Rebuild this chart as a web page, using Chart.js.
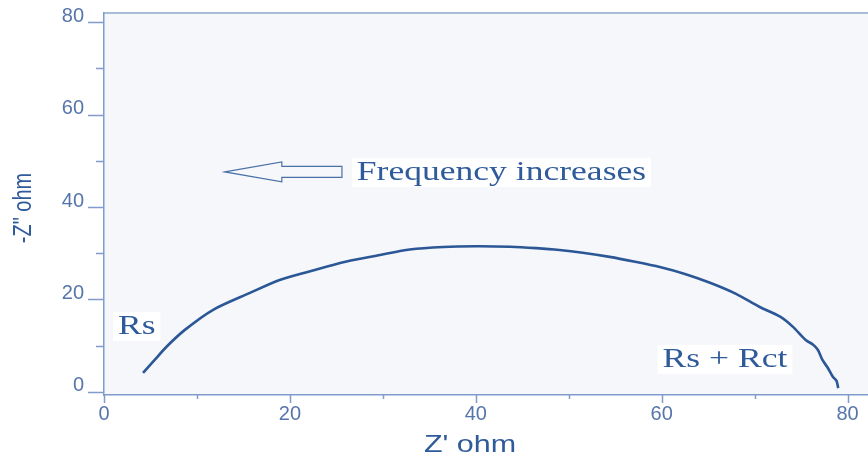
<!DOCTYPE html>
<html>
<head>
<meta charset="utf-8">
<script src="https://cdn.jsdelivr.net/npm/chart.js@4"></script>
<style>
  html, body { margin: 0; padding: 0; background: #ffffff; }
  #wrap { width: 868px; height: 458px; }
</style>
</head>
<body>
<div id="wrap"><canvas id="nyquist" width="868" height="458"></canvas></div>
<script>
'use strict';
// Nyquist plot values (ohm)
var zReal = [4.2, 5.5, 6.7, 8.7, 11.7, 15.7, 18.9, 22.0, 26.1, 29.7, 32.9, 36.5, 40.0, 43.7, 46.5,
  49.0, 51.5, 54.4, 57.0, 59.8, 62.5, 65.2, 68.0, 70.5, 72.7, 74.1, 75.5, 76.3, 76.8, 77.3, 77.9, 78.4, 78.8, 79.0];
var zImag = [4.1, 7.0, 9.7, 13.4, 17.7, 21.4, 24.2, 26.0, 28.2, 29.6, 30.8, 31.35, 31.5, 31.4, 31.1,
  30.7, 30.1, 29.2, 28.2, 27.0, 25.5, 23.6, 21.2, 18.4, 16.3, 14.1, 11.2, 10.2, 9.1, 6.9, 5.1, 3.3, 2.4, 0.8];

var xTicks = [0, 10, 20, 30, 40, 50, 60, 70, 80];
var yTicks = [0, 10, 20, 30, 40, 50, 60, 70, 80];
var labelEvery = 20;

var xTitle = "Z' ohm";
var yTitle = '-Z" ohm';

// annotations, anchored in data units
var notes = [
  { text: 'Frequency increases', x: 27.2, y: 45.8 },
  { text: 'Rs', x: 1.5, y: 12.5 },
  { text: 'Rs + Rct', x: 60.1, y: 5.4 }
];
var arrow = { tipX: 13.0, tailX: 25.6, y: 47.6 };

var AXIS = '#7f9ccc';
var LABEL = '#5675ab';
var TITLE = '#2f5b9b';
var LINE = '#2b5797';
var STRETCH = 1.27;

var decor = {
  id: 'decor',
  beforeDraw: function(chart) {
    var a = chart.chartArea, ctx = chart.ctx;
    ctx.save();
    ctx.fillStyle = '#f5f7fa';
    ctx.fillRect(a.left, a.top, a.right - a.left, a.bottom - a.top);
    ctx.strokeStyle = '#a9bdd8';
    ctx.lineWidth = 2;
    ctx.beginPath();
    ctx.moveTo(a.left, a.top);
    ctx.lineTo(a.right, a.top);
    ctx.stroke();
    ctx.restore();
  },
  afterDraw: function(chart) {
    var a = chart.chartArea, ctx = chart.ctx;
    var xs = chart.scales.x, ys = chart.scales.y;
    ctx.save();

    // tick marks, major ones longer
    ctx.strokeStyle = AXIS;
    ctx.lineWidth = 1.5;
    ctx.beginPath();
    xTicks.forEach(function(v) {
      var px = Math.round(xs.getPixelForValue(v)) + 0.5;
      var len = v % labelEvery === 0 ? 8 : 4;
      ctx.moveTo(px, a.bottom);
      ctx.lineTo(px, a.bottom + len);
    });
    yTicks.forEach(function(v) {
      var py = Math.round(ys.getPixelForValue(v)) + 0.5;
      var len = v % labelEvery === 0 ? 16 : 8;
      ctx.moveTo(a.left, py);
      ctx.lineTo(a.left - len, py);
    });
    ctx.stroke();

    // axis titles
    ctx.fillStyle = TITLE;
    ctx.font = '24px "Liberation Sans", Arial, sans-serif';
    ctx.textAlign = 'center';
    ctx.textBaseline = 'alphabetic';
    ctx.save();
    ctx.translate(470, 452);
    ctx.scale(STRETCH, 1);
    ctx.fillText(xTitle, 0, 0);
    ctx.restore();

    ctx.font = '20px "Liberation Sans", Arial, sans-serif';
    ctx.textBaseline = 'middle';
    ctx.save();
    ctx.translate(24, 208);
    ctx.scale(STRETCH, 1);
    ctx.rotate(-Math.PI / 2);
    ctx.fillText(yTitle, 0, 0);
    ctx.restore();

    // text notes on white boxes
    ctx.font = '28px "Liberation Serif", "Times New Roman", serif';
    ctx.textAlign = 'left';
    ctx.textBaseline = 'alphabetic';
    notes.forEach(function(n) {
      var px = xs.getPixelForValue(n.x), py = ys.getPixelForValue(n.y);
      var w = ctx.measureText(n.text).width * STRETCH;
      ctx.fillStyle = '#ffffff';
      ctx.fillRect(px - 5, py - 22, w + 10, 29);
      ctx.fillStyle = TITLE;
      ctx.save();
      ctx.translate(px, py);
      ctx.scale(STRETCH, 1);
      ctx.fillText(n.text, 0, 0);
      ctx.restore();
    });

    // hollow arrow pointing left
    var tx = xs.getPixelForValue(arrow.tipX), ex = xs.getPixelForValue(arrow.tailX);
    var cy = ys.getPixelForValue(arrow.y), hx = tx + 57;
    ctx.strokeStyle = '#4a70a8';
    ctx.lineWidth = 1.2;
    ctx.beginPath();
    ctx.moveTo(tx, cy);
    ctx.lineTo(hx, cy - 10);
    ctx.lineTo(hx, cy - 5.5);
    ctx.lineTo(ex, cy - 5.5);
    ctx.lineTo(ex, cy + 5.5);
    ctx.lineTo(hx, cy + 5.5);
    ctx.lineTo(hx, cy + 10);
    ctx.closePath();
    ctx.stroke();

    ctx.restore();
  }
};

function fixedTicks(list) {
  return function(scale) {
    scale.ticks = list.map(function(v) { return { value: v }; });
  };
}

new Chart(document.getElementById('nyquist'), {
  type: 'scatter',
  data: {
    datasets: [{
      data: zReal.map(function(x, i) { return { x: x, y: zImag[i] }; }),
      showLine: true,
      borderColor: LINE,
      borderWidth: 2.6,
      pointRadius: 0,
      tension: 0.3
    }]
  },
  options: {
    responsive: false,
    animation: false,
    events: [],
    layout: { padding: { top: 13, left: 0, right: 0, bottom: 0 } },
    plugins: { legend: { display: false }, tooltip: { enabled: false } },
    scales: {
      x: {
        type: 'linear',
        min: 0,
        max: 82.2,
        afterBuildTicks: fixedTicks(xTicks),
        afterFit: function(s) { s.height = 63; s.paddingLeft = 0; s.paddingRight = 0; },
        grid: { display: false, drawTicks: false },
        border: { display: true, color: AXIS, width: 1.5 },
        ticks: {
          color: LABEL,
          font: { family: '"Liberation Sans", Arial, sans-serif', size: 20 },
          padding: 7,
          maxRotation: 0,
          autoSkip: false,
          callback: function(v) { return v % labelEvery === 0 ? v : ''; }
        }
      },
      y: {
        type: 'linear',
        min: -0.7,
        max: 82,
        afterBuildTicks: fixedTicks(yTicks),
        afterFit: function(s) { s.width = 104; s.paddingTop = 0; s.paddingBottom = 0; },
        grid: { display: false, drawTicks: false },
        border: { display: true, color: AXIS, width: 1.5 },
        ticks: {
          color: LABEL,
          font: { family: '"Liberation Sans", Arial, sans-serif', size: 20 },
          padding: 20,
          labelOffset: -6,
          autoSkip: false,
          callback: function(v) { return v % labelEvery === 0 ? v : ''; }
        }
      }
    }
  },
  plugins: [decor]
});
</script>
</body>
</html>
